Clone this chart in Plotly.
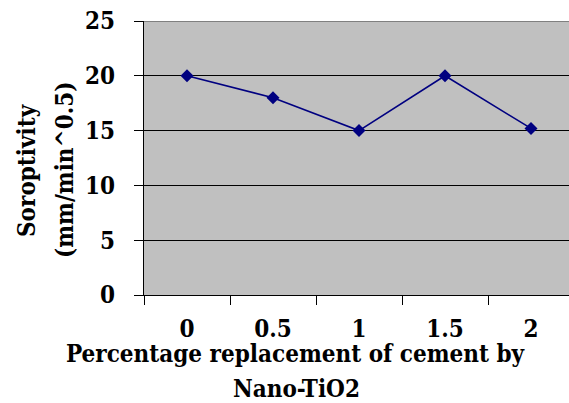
import plotly.graph_objects as go

categories = ["0", "0.5", "1", "1.5", "2"]
sorptivity = [20, 18, 15, 20, 15.2]
y_ticks = [0, 5, 10, 15, 20, 25]

FONT = "DejaVu Serif Condensed"
W, H = 569, 403
L, T, B, R = 144, 21, 108, 0
pw, ph = W - L - R, H - T - B

def px_x(p):
    return (p - L) / pw

def px_y(p):
    return (H - B - p) / ph

fig = go.Figure()
fig.add_trace(go.Scatter(
    x=categories, y=sorptivity, mode="lines+markers",
    line=dict(color="#000080", width=1.6),
    marker=dict(symbol="diamond", size=10, color="#000080"),
    showlegend=False,
))

fig.update_layout(
    width=W, height=H,
    margin=dict(l=L, r=R, t=T, b=B, pad=0),
    paper_bgcolor="white", plot_bgcolor="#C0C0C0",
    font=dict(family=FONT, size=24, color="black"),
    xaxis=dict(
        type="category", range=[-0.5, 4.5 - 5 / 86],
        tickson="boundaries", ticks="outside", ticklen=9, tickwidth=1.2,
        tickcolor="black", showline=True, linecolor="black", linewidth=1.2,
        showgrid=False, tickfont=dict(family=FONT, size=24, weight="bold"),
        ticklabelstandoff=12,
    ),
    yaxis=dict(
        range=[0, 25], tickvals=y_ticks, ticks="outside", ticklen=9,
        tickwidth=1.2, tickcolor="black", showline=True, linecolor="black",
        linewidth=1.2, showgrid=True, gridcolor="black", gridwidth=1,
        zeroline=False, tickfont=dict(family=FONT, size=24, weight="bold"),
        ticklabelstandoff=14,
    ),
)

fig.add_shape(type="line", xref="paper", yref="y", x0=0, x1=1, y0=25, y1=25,
              line=dict(color="#808080", width=2), layer="above")

ann_font = dict(family=FONT, size=24, color="black", weight="bold")
fig.add_annotation(text="Percentage replacement of cement by", xref="paper", yref="paper",
                   x=px_x(296), y=px_y(353), xanchor="center", yanchor="middle",
                   showarrow=False, font=ann_font)
fig.add_annotation(text="Nano-TiO2", xref="paper", yref="paper",
                   x=px_x(296), y=px_y(388), xanchor="center", yanchor="middle",
                   showarrow=False, font=ann_font)
fig.add_annotation(text="Soroptivity", xref="paper", yref="paper",
                   x=px_x(27), y=px_y(170), xanchor="center", yanchor="middle",
                   textangle=-90, showarrow=False, font=ann_font)
fig.add_annotation(text="(mm/min^0.5)", xref="paper", yref="paper",
                   x=px_x(65), y=px_y(170), xanchor="center", yanchor="middle",
                   textangle=-90, showarrow=False, font=ann_font)

fig.write_html("out.html")
